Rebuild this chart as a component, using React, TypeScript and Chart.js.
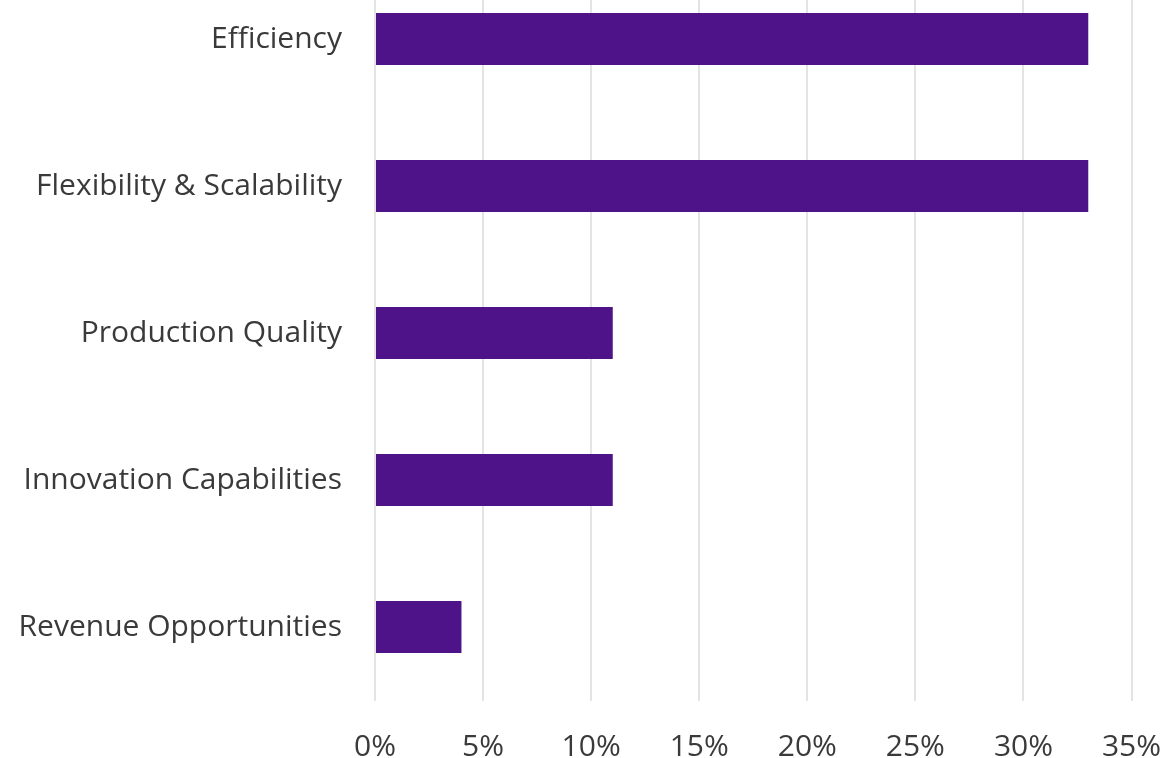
import React, { useEffect, useRef } from "react";
import { Chart, registerables } from "chart.js";

Chart.register(...registerables);

const categories = [
  "Efficiency",
  "Flexibility & Scalability",
  "Production Quality",
  "Innovation Capabilities",
  "Revenue Opportunities",
];
const values = [33, 33, 11, 11, 4];
const tickValues = [0, 5, 10, 15, 20, 25, 30, 35];

const FONT = "'Open Sans', Lato, sans-serif";

export default function App() {
  const ref = useRef<HTMLCanvasElement | null>(null);

  useEffect(() => {
    if (!ref.current) return;
    const chart = new Chart(ref.current, {
      type: "bar",
      data: {
        labels: categories,
        datasets: [
          {
            data: values,
            backgroundColor: "#4e1388",
            borderWidth: 0,
            barPercentage: 0.354,
            categoryPercentage: 1,
          },
        ],
      },
      options: {
        indexAxis: "y",
        animation: false,
        responsive: false,
        maintainAspectRatio: false,
        layout: { padding: { top: 15.5, right: 34.5, left: 0, bottom: 0 } },
        plugins: { legend: { display: false }, tooltip: { enabled: false } },
        scales: {
          x: {
            min: 0,
            max: 35,
            afterBuildTicks: (scale: any) => {
              scale.ticks = tickValues.map((v) => ({ value: v }));
            },
            afterFit: (scale: any) => {
              scale.height = 57.5;
              scale.paddingLeft = 0;
              scale.paddingRight = 0;
            },
            grid: { color: "#e4e4e4", lineWidth: 2, drawTicks: false },
            border: { display: false },
            ticks: {
              padding: 29,
              color: "#3a3a3a",
              font: { family: FONT, size: 30 },
              callback: (v: any) => v + "%",
              maxRotation: 0,
            },
          },
          y: {
            afterFit: (scale: any) => {
              scale.width = 375;
              scale.paddingTop = 0;
              scale.paddingBottom = 0;
            },
            grid: { display: false, drawTicks: false },
            border: { display: false },
            ticks: {
              padding: 33,
              color: "#3a3a3a",
              font: { family: FONT, size: 30 },
            },
          },
        },
      },
    });
    return () => chart.destroy();
  }, []);

  return (
    <div style={{ position: "fixed", top: -50, left: 0, width: 1166, height: 808, background: "#fff" }}>
      <canvas ref={ref} width={1166} height={808} style={{ width: 1166, height: 808 }} />
    </div>
  );
}
